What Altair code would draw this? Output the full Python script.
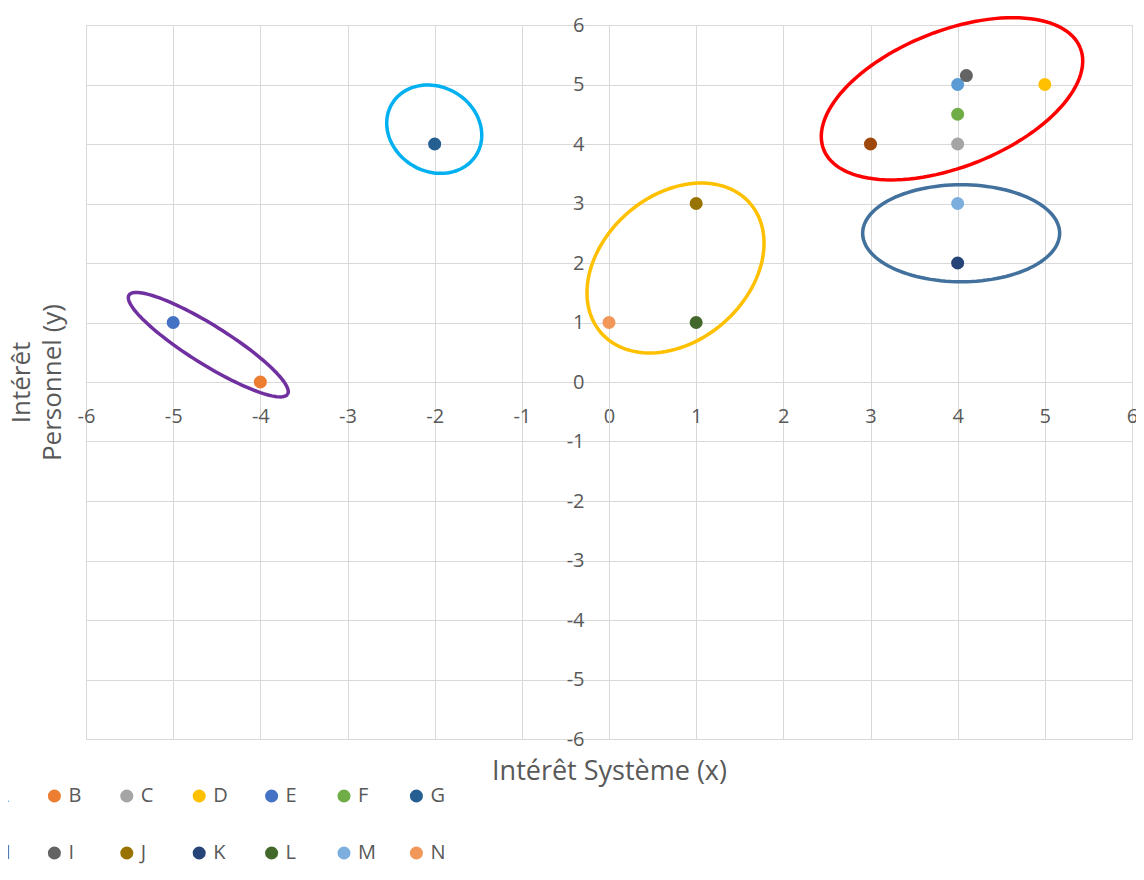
import altair as alt
import numpy as np
import pandas as pd

# ---- data ----
NAMES = list("ABCDEFGHIJKLMN")
X_VALUES = [4, -4, 4, 5, -5, 4, -2, 3, 4.1, 1, 4, 1, 4, 0]
Y_VALUES = [5, 0, 4, 5, 1, 4.5, 4, 4, 5.15, 3, 2, 1, 3, 1]
COLORS = ["#5B9BD5", "#ED7D31", "#A5A5A5", "#FFC000", "#4472C4", "#70AD47",
          "#255E91", "#9E480E", "#636363", "#997300", "#264478", "#43682B",
          "#7CAFDD", "#F1975A"]
TICKS = list(range(-6, 7))

# hand-drawn ellipse annotations: centre (data units), semi-axes (px), tilt (deg)
ELL_NAMES = ["red", "blue", "yellow", "cyan", "purple"]
ELL_COLORS = ["#FF0000", "#41719C", "#FFC000", "#00B0F0", "#7030A0"]
ELL_CX = [3.935, 4.04, 0.763, -2.005, -4.597]
ELL_CY = [4.76, 2.50, 1.916, 4.249, 0.627]
ELL_A = [138, 98.5, 98.7, 49.3, 93.5]
ELL_B = [68, 48.5, 72.9, 42.2, 19.5]
ELL_ANGLE = [21.6, 0, 41, -31, -32]

W, H = 1046, 714
FONT = "Open Sans"
GREY = "#595959"
GRID = "#D9D9D9"

df = pd.DataFrame({"name": NAMES, "x": X_VALUES, "y": Y_VALUES})
xscale = alt.Scale(domain=[-6, 6], nice=False, zero=False)
yscale = alt.Scale(domain=[-6, 6], nice=False, zero=False)

points = alt.Chart(df).mark_point(filled=True, size=170, opacity=1).encode(
    x=alt.X("x:Q", scale=xscale, axis=alt.Axis(
        orient="bottom", values=TICKS, grid=True, gridColor=GRID, gridWidth=1,
        labels=False, ticks=False, domain=False,
        title="Intérêt Système (x)", titleFont=FONT, titleFontSize=27,
        titleFontWeight="normal", titleColor=GREY, titlePadding=19)),
    y=alt.Y("y:Q", scale=yscale, axis=alt.Axis(
        orient="left", values=TICKS, grid=True, gridColor=GRID, gridWidth=1,
        labels=False, ticks=False, domain=False,
        title=["Intérêt", "Personnel (y)"], titleFont=FONT, titleFontSize=26,
        titleFontWeight="normal", titleColor=GREY, titlePadding=21,
        titleLineHeight=31)),
    color=alt.Color("name:N", scale=alt.Scale(domain=NAMES, range=COLORS),
                    legend=alt.Legend(
                        title=None, orient="none", legendX=-114, legendY=761,
                        direction="horizontal", columns=7, symbolType="circle",
                        symbolSize=170, symbolStrokeWidth=0, symbolOpacity=1,
                        labelFontSize=20, labelColor=GREY, labelFont=FONT,
                        gridAlign="all", columnPadding=30.4, rowPadding=37,
                        labelOffset=4, padding=0)),
)

layers = [points]
t = np.linspace(0, 2 * np.pi, 121)
for i, nm in enumerate(ELL_NAMES):
    th = np.deg2rad(ELL_ANGLE[i])
    dx = ELL_A[i] * np.cos(t) * np.cos(th) - ELL_B[i] * np.sin(t) * np.sin(th)
    dy = ELL_A[i] * np.cos(t) * np.sin(th) + ELL_B[i] * np.sin(t) * np.cos(th)
    edf = pd.DataFrame({
        "x": ELL_CX[i] + dx * 12 / W,
        "y": ELL_CY[i] + dy * 12 / H,
        "k": np.arange(len(t)),
    })
    if i == 0:
        xax = alt.Axis(orient="bottom", offset=-H / 2, values=TICKS, grid=False,
                       domain=True, domainColor=GRID, ticks=True, tickColor=GRID,
                       tickSize=8, labelFontSize=20, labelFont=FONT,
                       labelColor=GREY, labelPadding=16, labelFlush=False,
                       labelOverlap=False, title=None,
                       labelExpr="'' + datum.value")
        yax = alt.Axis(orient="left", offset=-W / 2, values=TICKS, grid=False,
                       domain=True, domainColor=GRID, ticks=True, tickColor=GRID,
                       tickSize=9, labelFontSize=20, labelFont=FONT,
                       labelColor=GREY, labelPadding=16, labelFlush=False,
                       labelOverlap=False, title=None,
                       labelExpr="'' + datum.value")
    else:
        xax = None
        yax = None
    line = alt.Chart(edf).mark_line(color=ELL_COLORS[i], strokeWidth=3.5).encode(
        x=alt.X("x:Q", scale=xscale, axis=xax),
        y=alt.Y("y:Q", scale=yscale, axis=yax),
        order="k:Q",
    )
    layers.append(line)

chart = alt.layer(*layers).resolve_axis(x="independent", y="independent").properties(
    width=W, height=H,
    autosize=alt.AutoSizeParams(type="none"),
    padding={"left": 78, "top": 17, "right": 4, "bottom": 125},
    background="white",
).configure_view(stroke=None).configure(font=FONT)

chart.save("out.html", embed_options={"renderer": "svg", "actions": False})
